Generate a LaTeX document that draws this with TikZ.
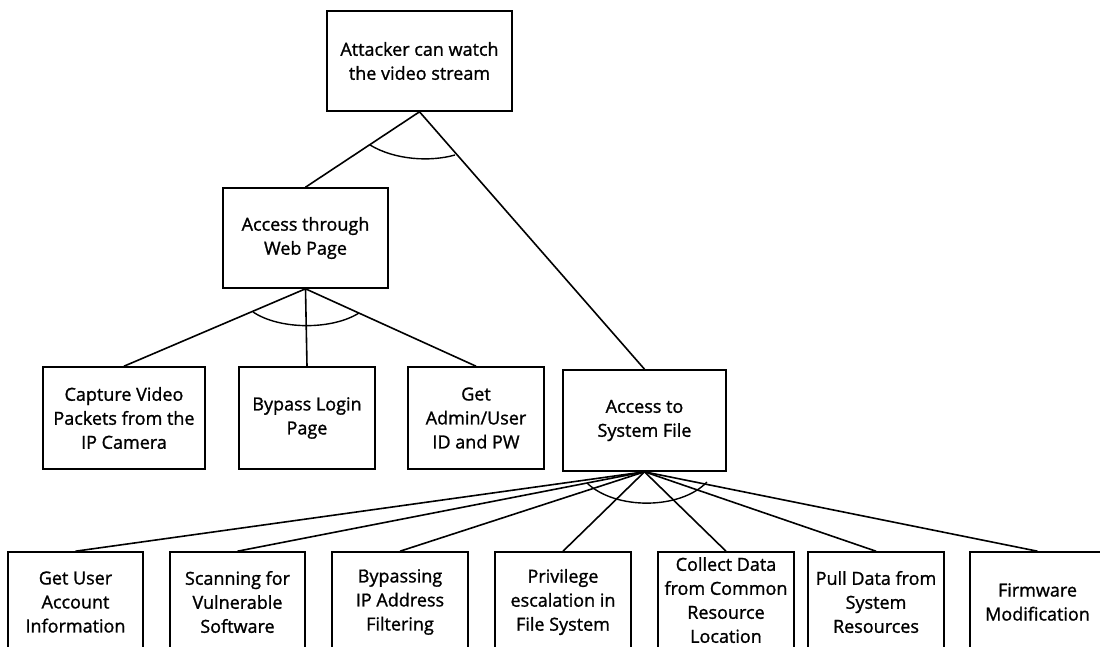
\documentclass[tikz,border=0pt]{standalone}
\usepackage{fontspec}
\setmainfont{Open Sans}
\newfontfamily\boxfont{Open Sans}[BoldFont={Open Sans},BoldFeatures={FakeBold=1.2}]
\begin{document}
\begin{tikzpicture}[x=1pt,y=-1pt,
  box/.style={draw=black,line width=1.6pt,fill=white,inner sep=0pt,align=center,
    font=\boxfont\bfseries\fontsize{18}{24}\selectfont},
  conn/.style={line width=1.6pt,black},
  andarc/.style={line width=1.4pt,black}]
\useasboundingbox (0,0) rectangle (1100,646);
\clip (0,0) rectangle (1100,646);
\fill[white] (0,0) rectangle (1100,646);
% nodes
\node[box,minimum width=185pt,minimum height=100pt] (top) at (419.5,61) {Attacker can watch\\the video stream};
\node[box,minimum width=165pt,minimum height=100pt] (web) at (305.5,238) {Access through\\Web Page};
\node[box,minimum width=162pt,minimum height=102pt] (c1) at (124,418) {Capture Video\\Packets from the\\IP Camera};
\node[box,minimum width=136pt,minimum height=102pt] (c2) at (307,418) {Bypass Login\\Page};
\node[box,minimum width=136pt,minimum height=102pt] (c3) at (476,418) {Get\\Admin/User\\ID and PW};
\node[box,minimum width=163pt,minimum height=101pt] (sys) at (644.5,420.5) {Access to\\System File};
\node[box,minimum width=135pt,minimum height=100pt] (b1) at (75.5,602) {Get User\\Account\\Information};
\node[box,minimum width=135pt,minimum height=100pt] (b2) at (237.5,602) {Scanning for\\Vulnerable\\Software};
\node[box,minimum width=136pt,minimum height=100pt] (b3) at (400,602) {Bypassing\\IP Address\\Filtering};
\node[box,minimum width=136pt,minimum height=100pt] (b4) at (563,602) {Privilege\\escalation in\\File System};
\node[box,minimum width=136pt,minimum height=100pt] (b5) at (726,602) {\raisebox{4pt}{\begin{tabular}{@{}c@{}}Collect Data\\from Common\\Resource\\Location\end{tabular}}};
\node[box,minimum width=136pt,minimum height=100pt] (b6) at (876,602) {Pull Data from\\System\\Resources};
\node[box,minimum width=135pt,minimum height=100pt] (b7) at (1037.5,602) {Firmware\\Modification};
% connectors
\draw[conn] (top.south) -- (web.north);
\draw[conn] (top.south) -- (sys.north);
\draw[conn] (web.south) -- (c1.north);
\draw[conn] (web.south) -- (c2.north);
\draw[conn] (web.south) -- (c3.north);
\foreach \b in {b1,b2,b3,b4,b5,b6,b7}
  \draw[conn] (sys.south) -- (\b.north);
% AND arcs
\coordinate (a1s) at (370,145);
\coordinate (a1e) at (455,155);
\draw[andarc] (a1s) .. controls (395,160) and (430,162) .. (a1e);
\coordinate (a2s) at (253,312);
\coordinate (a2e) at (359,313);
\draw[andarc] (a2s) .. controls (280,330) and (332,330) .. (a2e);
\coordinate (a3s) at (587,483);
\coordinate (a3e) at (707,482);
\draw[andarc] (a3s) .. controls (615,510) and (680,510) .. (a3e);
\end{tikzpicture}
\end{document}
